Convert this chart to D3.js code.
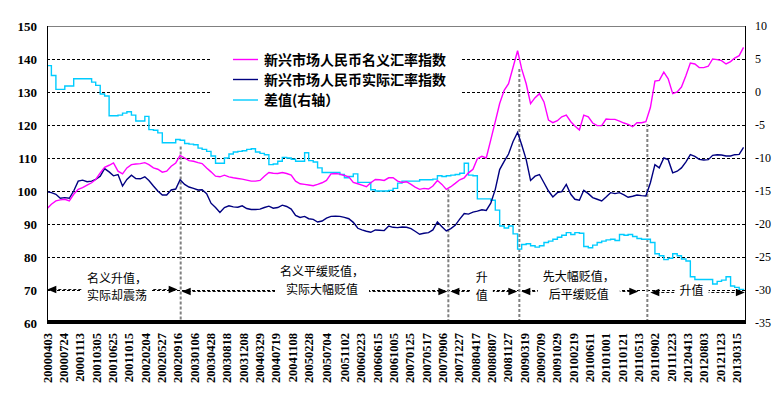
<!DOCTYPE html>
<html><head><meta charset="utf-8">
<script src="https://cdn.jsdelivr.net/npm/d3@7"></script>
<style>body{margin:0;background:#fff}svg{display:block}</style>
</head><body>
<svg id="c" width="779" height="397"></svg>
<script>
// ---------------- DATA ----------------
const firstMonth = "20000401"; // monthly observations, one per month from April 2000
const nominal = [
94.6,96,97,97.3,97.5,97,99,100.5,101,101.8,
102.5,103.5,105.5,107.2,107.8,108.5,106,105.2,107,108,
108.2,108.3,108.6,108,107,106.6,105.7,106,107.5,108.5,
110.8,110,109.2,109,108.6,108.3,107,105.8,104.5,104.3,
104.8,104.3,104,103.8,103.6,103.3,103,103,103.2,104.5,
105.6,105.4,105.3,105.6,105.3,104.8,103,102.2,102,101.8,
101.6,102,102.5,103.2,105.2,105.3,105.1,104.7,104.3,102.6,
102.2,101.8,101.3,102.5,103.5,103.4,103.2,104,104,103,
102.6,102.8,102,101.2,100.5,100.8,100.6,101.5,103.2,102,
100.5,101.3,102.3,103.4,104,105.5,106.6,109.8,110.5,110,
115.5,121,126.5,130.5,132.5,137.5,142.5,137,132.5,126.5,
128.3,129.5,127,121.5,120.7,121.3,122.5,123,121,119.7,
118.5,123,122.5,120.6,119.8,119.8,121.8,121.7,121.7,121.2,
120.6,120.2,119.5,120.7,120.7,121,125.3,133.3,133.5,136,
134,129.5,130,131.5,135,138.8,138.5,137.4,137.4,137.8,
140,139.8,139.5,138.5,139.2,140.3,141,143.5];
const real = [
99.8,99.5,99,97.8,98,97.8,100,103,103.3,102.8,
103,103.5,104.5,106.8,105.8,104.6,105,101.5,103.5,104.8,
103.8,103.7,104.3,103.2,101.5,100,98.8,98.8,100.3,100.6,
103.4,102,101.2,100.8,100.3,100.4,99.2,96.3,95,93.5,
95,95.5,95.2,95.1,95.5,94.7,94.4,94.4,94.5,95,
95.4,94.8,95,95.7,95.3,94.5,92.6,92,92.3,91.6,
91.4,90.6,90.9,91.8,92.3,92.4,92.3,92,91.6,90.5,
88.7,88.2,87.8,87.5,88.2,88.1,88,89.4,89,88.9,
89.1,89,88.6,87.8,86.9,87.2,87.4,88.2,90.6,89.2,
87.9,88.6,89.6,91.5,93.2,93,93.6,93.9,94.3,94.1,
96.3,100.5,106.5,109,111.2,115,117.8,114,109.5,103.2,
104.5,105,102.5,100,98.2,99.5,99.8,102,99,97.5,
97.2,100.2,99.2,98,97.5,97,98.2,99.5,99.2,99.5,
98.8,98.1,98.4,98.8,98.6,98.5,102.5,108,107,110,
109.5,105.5,106,107,108.8,111,110.5,109.6,109.4,109.5,
110.8,111,110.9,110.6,110.6,111,111.1,113.2];
const diff = [
4.0,2.5,0.4,0.4,0.9,0.9,2.0,2.0,2.0,2.0,
1.5,1.0,-0.3,-0.6,-3.6,-3.6,-3.5,-3.2,-3.0,-3.5,
-4.4,-4.4,-3.7,-5.7,-5.8,-6.2,-7.7,-7.7,-7.7,-7.2,
-7.3,-7.8,-7.9,-8.0,-8.5,-8.7,-9.0,-9.7,-10.8,-10.8,
-10.0,-9.4,-9.1,-9.0,-8.9,-8.7,-8.6,-9.1,-9.3,-9.5,
-11.0,-10.9,-10.5,-9.9,-10.0,-10.2,-10.5,-10.5,-9.2,-10.4,
-10.6,-11.5,-12.2,-12.2,-12.2,-12.2,-12.5,-13.0,-12.8,-12.4,
-13.7,-13.7,-13.7,-14.8,-15.0,-15.0,-15.0,-14.9,-14.6,-13.8,
-13.5,-13.5,-13.5,-13.5,-13.3,-13.3,-13.3,-13.2,-12.7,-12.8,
-12.7,-12.6,-12.5,-12.3,-10.8,-12.6,-12.7,-16.2,-16.2,-16.2,
-16.4,-17.9,-20.3,-20.6,-20.3,-21.5,-23.8,-23.1,-23.0,-23.3,
-23.5,-23.3,-22.8,-22.6,-22.3,-22.0,-21.7,-21.3,-21.6,-21.3,
-21.4,-23.4,-23.6,-23.2,-22.8,-22.6,-22.4,-22.3,-22.5,-21.6,
-21.7,-21.6,-21.9,-22.2,-22.3,-22.3,-22.8,-24.5,-24.8,-25.4,
-25.2,-24.5,-24.8,-25.3,-25.6,-28.0,-28.4,-28.4,-28.4,-28.4,
-29.1,-28.7,-28.5,-28.0,-29.4,-29.6,-29.9,-30.0];
const xTickLabels = ["20000403","20000724","20001113","20010305","20010625","20011015","20020204","20020527","20020916","20030106","20030428","20030818","20031208","20040329","20040719","20041108","20050228","20050704","20051102","20060223","20060615","20061005","20070125","20070517","20070906","20071227","20080417","20080807","20081127","20090319","20090709","20091029","20100219","20100611","20101001","20110121","20110513","20110902","20111223","20120413","20120803","20121123","20130315"];
const leftTicks = [150,140,130,120,110,100,90,80,70,60];
const rightTicks = [10,5,0,-5,-10,-15,-20,-25,-30,-35];
const seriesNames = ["新兴市场人民币名义汇率指数","新兴市场人民币实际汇率指数","差值(右轴）"];
const periodBounds = ["20000403","20021005","20071015","20090213","20110711","20130510"];
const periodTexts = [["名义升值，","实际却震荡"],["名义平缓贬值，","实际大幅贬值"],["升","值"],["先大幅贬值，","后平缓贬值"],["升值"]];
const dividerTops = [113.5,100.5,137,120.3]; // left-axis value where each divider starts

// ---------------- LAYOUT ----------------
const svg = d3.select("#c");
const L = 47, R = 745, T = 26, B = 323;
const parse = d3.timeParse("%Y%m%d");
const x = d3.scaleTime().domain([parse("20000403"), parse("20130315")]).range([47.3, 736.7]);
const yL = d3.scaleLinear().domain([60,150]).range([B,T]);
const yR = d3.scaleLinear().domain([-35,10]).range([B,T]);
const m0 = parse(firstMonth);
const dates = nominal.map((_, i) => d3.timeMonth.offset(m0, i));
const serif = "'Liberation Serif','Times New Roman',serif";
const cjk = "'Noto Sans CJK SC','Noto Sans',sans-serif";

svg.append("defs").append("clipPath").attr("id","clip")
  .append("rect").attr("x",L).attr("y",T).attr("width",R-L).attr("height",B-T);

// grid
svg.append("g").selectAll("line").data(leftTicks.filter(d => d>60 && d<150)).join("line")
  .attr("x1",L).attr("x2",R).attr("y1",d=>yL(d)).attr("y2",d=>yL(d))
  .attr("stroke","#000").attr("stroke-width",1).attr("stroke-dasharray","3,2")
  .attr("shape-rendering","crispEdges");

// legend background
svg.append("rect").attr("x",212).attr("y",45).attr("width",248).attr("height",64).attr("fill","#fff");

// period dividers
svg.append("g").selectAll("line").data(periodBounds.slice(1,5)).join("line")
  .attr("x1",d=>x(parse(d))).attr("x2",d=>x(parse(d)))
  .attr("y1",(d,i)=>yL(dividerTops[i])).attr("y2",B-3)
  .attr("stroke","#808080").attr("stroke-width",2).attr("stroke-dasharray","3,2");

// series
const g = svg.append("g").attr("clip-path","url(#clip)");
const lineL = d3.line().x((d,i)=>x(dates[i])).y(d=>yL(d));
const lineR = d3.line().x((d,i)=>x(dates[i])).y(d=>yR(d)).curve(d3.curveStepAfter);
g.append("path").datum(diff).attr("d",lineR).attr("fill","none").attr("stroke","#00CCFF").attr("stroke-width",1.4);
g.append("path").datum(real).attr("d",lineL).attr("fill","none").attr("stroke","#000080").attr("stroke-width",1.4);
g.append("path").datum(nominal).attr("d",lineL).attr("fill","none").attr("stroke","#FF00FF").attr("stroke-width",1.4);

// axes frame
svg.append("line").attr("x1",L).attr("x2",R).attr("y1",T+0.5).attr("y2",T+0.5).attr("stroke","#808080");
svg.append("line").attr("x1",L+0.5).attr("x2",L+0.5).attr("y1",T).attr("y2",B).attr("stroke","#000");
svg.append("line").attr("x1",R+0.5).attr("x2",R+0.5).attr("y1",T).attr("y2",B).attr("stroke","#000");
svg.append("rect").attr("x",L).attr("y",B-3).attr("width",R-L+1).attr("height",4).attr("fill","#000");

// left ticks
svg.append("g").selectAll("text").data(leftTicks).join("text")
  .attr("x",37).attr("y",d=>yL(d)).attr("dy","0.35em").attr("text-anchor","end")
  .attr("font-family",serif).attr("font-weight","bold").attr("font-size",13).text(d=>d);
// right ticks
svg.append("g").selectAll("text").data(rightTicks).join("text")
  .attr("x",755).attr("y",d=>yR(d)).attr("dy","0.35em").attr("text-anchor","start")
  .attr("font-family",serif).attr("font-size",12).text(d=>d);
// x tick labels
svg.append("g").selectAll("text").data(xTickLabels).join("text")
  .attr("transform",d=>`translate(${x(parse(d))},333) rotate(-90)`)
  .attr("dy","0.35em").attr("text-anchor","end")
  .attr("font-family",serif).attr("font-weight","bold").attr("font-size",12.5).text(d=>d);

// legend
const legColors = ["#FF00FF","#000080","#00CCFF"];
const legY = [59.5,79.5,100];
const lg = svg.append("g");
seriesNames.forEach((n,i)=>{
  lg.append("line").attr("x1",233).attr("x2",258).attr("y1",legY[i]).attr("y2",legY[i])
    .attr("stroke",legColors[i]).attr("stroke-width",1.4);
  lg.append("text").attr("x",264).attr("y",legY[i]).attr("dy","0.36em")
    .attr("font-family",cjk).attr("font-weight","bold").attr("font-size",14).text(n);
});

// period arrows
const arrowY = [289.5,291.5,291.5,291.5,292.5];
const insets = [[0,3],[1,1],[2,2],[2,9],[3,0]];
const textDx = [4.5,7.5,-2,-1,-6];
const textYs = [[278.5,296],[272,289.5],[278,295.5],[277,294.5],[291]];
const ag = svg.append("g");
periodTexts.forEach((lines,i)=>{
  const x1 = Math.max(L, x(parse(periodBounds[i]))) + insets[i][0];
  const x2 = Math.min(R, x(parse(periodBounds[i+1]))) - insets[i][1];
  const y = arrowY[i];
  ag.append("line").attr("x1",x1+6).attr("x2",x2-6).attr("y1",y).attr("y2",y)
    .attr("stroke","#111").attr("stroke-width",1.2).attr("stroke-dasharray","3,2");
  ag.append("path").attr("d",`M${x1},${y}L${x1+9},${y-3.8}L${x1+9},${y+3.8}Z`).attr("fill","#000");
  ag.append("path").attr("d",`M${x2},${y}L${x2-9},${y-3.8}L${x2-9},${y+3.8}Z`).attr("fill","#000");
  const cx = (x1+x2)/2 + textDx[i];
  const tg = ag.append("g");
  const bg = tg.append("rect").attr("fill","#fff");
  lines.forEach((t,j)=>{
    tg.append("text").attr("x",cx).attr("y",textYs[i][j]).attr("dy","0.36em")
      .attr("text-anchor","middle").attr("font-family",cjk).attr("font-size",12).text(t);
  });
  const bb = tg.node().getBBox();
  bg.attr("x",bb.x-5).attr("y",bb.y+1).attr("width",bb.width+10).attr("height",bb.height-2);
});
</script>
</body></html>
